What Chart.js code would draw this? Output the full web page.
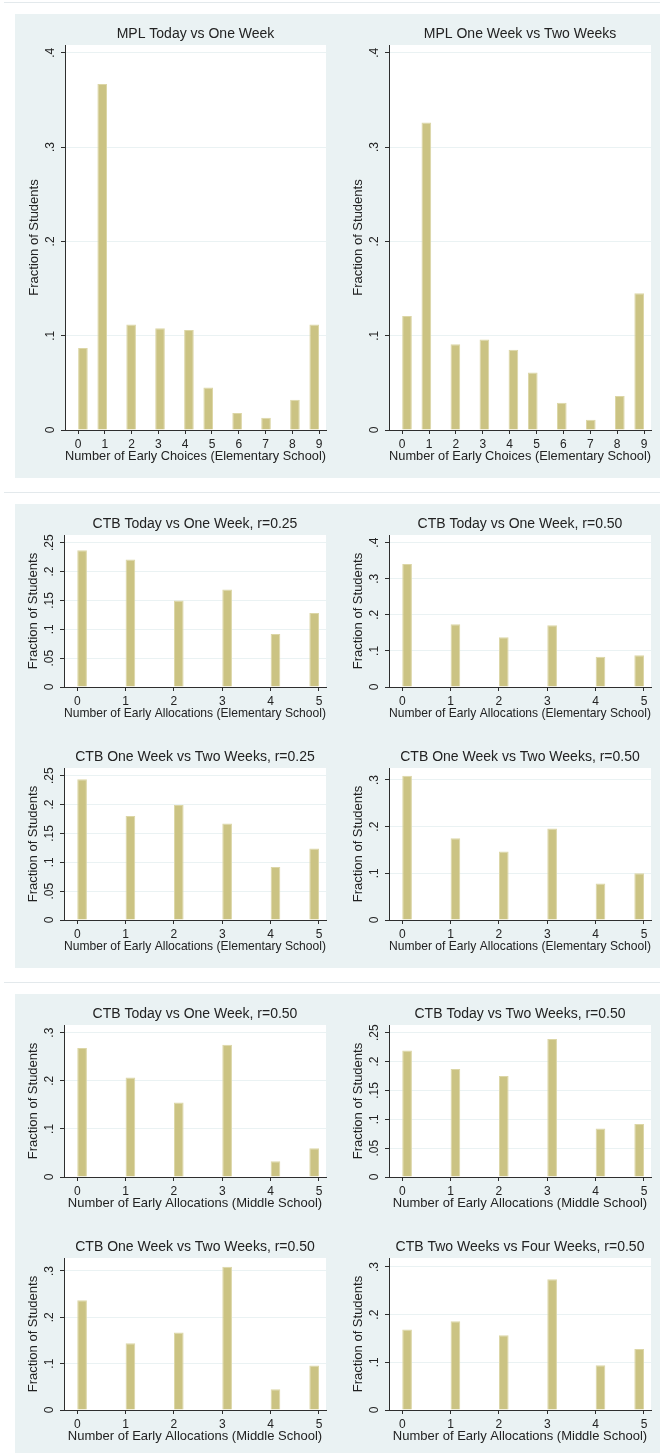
<!DOCTYPE html>
<html>
<head>
<meta charset="utf-8">
<script src="https://cdn.jsdelivr.net/npm/chart.js@4.4.1/dist/chart.umd.min.js"></script>
<style>
  html, body { margin: 0; padding: 0; background: #ffffff; }
  #page { position: relative; width: 660px; height: 1453px; overflow: hidden; background: #ffffff; }
  .sep { position: absolute; left: 4px; width: 656px; height: 1px; background: #e3e9ec; }
  .panel { position: absolute; left: 15px; width: 645px; background: #eaf2f3; }
  canvas { position: absolute; }
</style>
</head>
<body>
<div id="page">
  <div class="sep" style="top:2px"></div>
  <div class="panel" style="top:14px;height:464px"></div>
  <div class="sep" style="top:492px"></div>
  <div class="panel" style="top:504px;height:464px"></div>
  <div class="sep" style="top:982px"></div>
  <div class="panel" style="top:994px;height:459px"></div>
</div>
<script>
// ---------------- DATA ----------------
const mplCategories = [0, 1, 2, 3, 4, 5, 6, 7, 8, 9];
const ctbCategories = [0, 1, 2, 3, 4, 5];

const mplTodayVsOneWeek      = [0.087, 0.367, 0.112, 0.108, 0.106, 0.045, 0.018, 0.013, 0.032, 0.112];
const mplOneWeekVsTwoWeeks   = [0.121, 0.326, 0.091, 0.096, 0.085, 0.061, 0.029, 0.011, 0.036, 0.145];

const ctbElemTodayOneWeekR25 = [0.237, 0.221, 0.150, 0.169, 0.092, 0.128];
const ctbElemTodayOneWeekR50 = [0.341, 0.174, 0.138, 0.171, 0.084, 0.088];
const ctbElemOneTwoWeeksR25  = [0.244, 0.180, 0.199, 0.167, 0.092, 0.124];
const ctbElemOneTwoWeeksR50  = [0.309, 0.175, 0.147, 0.196, 0.078, 0.100];

const ctbMidTodayOneWeekR50  = [0.268, 0.207, 0.155, 0.275, 0.033, 0.060];
const ctbMidTodayTwoWeeksR50 = [0.219, 0.187, 0.175, 0.239, 0.084, 0.092];
const ctbMidOneTwoWeeksR50   = [0.237, 0.144, 0.167, 0.309, 0.045, 0.096];
const ctbMidTwoFourWeeksR50  = [0.169, 0.186, 0.157, 0.274, 0.094, 0.128];

const yTicksTenths4   = [0, 0.1, 0.2, 0.3, 0.4];
const yTicksTenths3   = [0, 0.1, 0.2, 0.3];
const yTicksTwentieth = [0, 0.05, 0.1, 0.15, 0.2, 0.25];

const yAxisTitle = 'Fraction of Students';
const xTitleMPL  = 'Number of Early Choices (Elementary School)';
const xTitleElem = 'Number of Early Allocations (Elementary School)';
const xTitleMid  = 'Number of Early Allocations (Middle School)';

// ---------------- STYLE ----------------
const FONT = '"Liberation Sans", Arial, Helvetica, sans-serif';
const TEXT = '#222222';
const AXIS = '#2e2e2e';
const GRID = '#eaf2f3';
const BAR_FILL = '#cbc383';
const BAR_EDGE = '#dcd6a6';
const TITLE_SIZE = 14, AXIS_TITLE_SIZE = 13, TICK_SIZE = 12;
const N_BINS = 25;

Chart.defaults.font.family = FONT;

// ---------------- CHART SPECS ----------------
const specs = [
  { title: 'MPL Today vs One Week', xTitle: xTitleMPL, cats: mplCategories, vals: mplTodayVsOneWeek, yTicks: yTicksTenths4,
    yMax: 0.4083, xMin: -0.49, xMax: 9.26, box: { x: 15, y: 14, w: 330, h: 464 }, area: { l: 65, t: 45, r: 326, b: 430 }, titleY: 34 },
  { title: 'MPL One Week vs Two Weeks', xTitle: xTitleMPL, cats: mplCategories, vals: mplOneWeekVsTwoWeeks, yTicks: yTicksTenths4,
    yMax: 0.4083, xMin: -0.49, xMax: 9.26, box: { x: 330, y: 14, w: 330, h: 464 }, area: { l: 389, t: 45, r: 651, b: 430 }, titleY: 34 },

  { title: 'CTB Today vs One Week, r=0.25', xTitle: xTitleElem, cats: ctbCategories, vals: ctbElemTodayOneWeekR25, yTicks: yTicksTwentieth,
    yMax: 0.2633, xMin: -0.274, xMax: 5.145, box: { x: 15, y: 504, w: 330, h: 230 }, area: { l: 64, t: 535, r: 326, b: 687 }, titleY: 524 },
  { title: 'CTB Today vs One Week, r=0.50', xTitle: xTitleElem, cats: ctbCategories, vals: ctbElemTodayOneWeekR50, yTicks: yTicksTenths4,
    yMax: 0.4213, xMin: -0.274, xMax: 5.145, box: { x: 330, y: 504, w: 330, h: 230 }, area: { l: 389, t: 535, r: 651, b: 687 }, titleY: 524 },
  { title: 'CTB One Week vs Two Weeks, r=0.25', xTitle: xTitleElem, cats: ctbCategories, vals: ctbElemOneTwoWeeksR25, yTicks: yTicksTwentieth,
    yMax: 0.2633, xMin: -0.274, xMax: 5.145, box: { x: 15, y: 736, w: 330, h: 232 }, area: { l: 64, t: 768, r: 326, b: 920 }, titleY: 757 },
  { title: 'CTB One Week vs Two Weeks, r=0.50', xTitle: xTitleElem, cats: ctbCategories, vals: ctbElemOneTwoWeeksR50, yTicks: yTicksTenths3,
    yMax: 0.3257, xMin: -0.274, xMax: 5.145, box: { x: 330, y: 736, w: 330, h: 232 }, area: { l: 389, t: 768, r: 651, b: 920 }, titleY: 757 },

  { title: 'CTB Today vs One Week, r=0.50', xTitle: xTitleMid, cats: ctbCategories, vals: ctbMidTodayOneWeekR50, yTicks: yTicksTenths3,
    yMax: 0.316, xMin: -0.274, xMax: 5.145, box: { x: 15, y: 994, w: 330, h: 230 }, area: { l: 64, t: 1025, r: 326, b: 1177 }, titleY: 1014 },
  { title: 'CTB Today vs Two Weeks, r=0.50', xTitle: xTitleMid, cats: ctbCategories, vals: ctbMidTodayTwoWeeksR50, yTicks: yTicksTwentieth,
    yMax: 0.2633, xMin: -0.274, xMax: 5.145, box: { x: 330, y: 994, w: 330, h: 230 }, area: { l: 389, t: 1025, r: 651, b: 1177 }, titleY: 1014 },
  { title: 'CTB One Week vs Two Weeks, r=0.50', xTitle: xTitleMid, cats: ctbCategories, vals: ctbMidOneTwoWeeksR50, yTicks: yTicksTenths3,
    yMax: 0.328, xMin: -0.274, xMax: 5.145, box: { x: 15, y: 1226, w: 330, h: 227 }, area: { l: 64, t: 1258, r: 326, b: 1410 }, titleY: 1247 },
  { title: 'CTB Two Weeks vs Four Weeks, r=0.50', xTitle: xTitleMid, cats: ctbCategories, vals: ctbMidTwoFourWeeksR50, yTicks: yTicksTenths3,
    yMax: 0.3188, xMin: -0.274, xMax: 5.145, box: { x: 330, y: 1226, w: 330, h: 227 }, area: { l: 389, t: 1258, r: 651, b: 1410 }, titleY: 1247 }
];

// ---------------- HELPERS ----------------
const fmtY = v => {
  const s = String(Number(Number(v).toFixed(3)));
  return s.replace(/^0\./, '.');
};

// Stata-style histogram binning of discrete values over [lo, hi] in N_BINS bins
function binLayout(cats) {
  const lo = Math.min(...cats), hi = Math.max(...cats);
  const w = (hi - lo) / N_BINS;
  const idx = cats.map(c => Math.min(N_BINS - 1, Math.floor((c - lo) / w + 1e-9)));
  const centers = idx.map(i => lo + (i + 0.5) * w);
  let minGap = 1 / w; // tick spacing in bins
  for (let i = 1; i < idx.length; i++) minGap = Math.min(minGap, idx[i] - idx[i - 1]);
  return { centers, catPct: 1 / minGap };
}

const measureCtx = document.createElement('canvas').getContext('2d');
function widestLabel(labels, size) {
  measureCtx.font = size + 'px ' + FONT;
  return Math.max(...labels.map(l => measureCtx.measureText(l).width));
}

const plotBackground = {
  id: 'plotBackground',
  beforeDraw(chart) {
    const { ctx, chartArea: a } = chart;
    ctx.save();
    ctx.fillStyle = '#ffffff';
    ctx.fillRect(a.left, a.top, a.right - a.left, a.bottom - a.top);
    ctx.restore();
  }
};

const page = document.getElementById('page');

specs.forEach(spec => {
  const B = spec.box, A = spec.area;
  const canvas = document.createElement('canvas');
  canvas.width = B.w; canvas.height = B.h;
  canvas.style.left = B.x + 'px'; canvas.style.top = B.y + 'px';
  canvas.style.width = B.w + 'px'; canvas.style.height = B.h + 'px';
  page.appendChild(canvas);

  const titleLH = TITLE_SIZE * 1.2, axisLH = AXIS_TITLE_SIZE * 1.2, tickLH = TICK_SIZE * 1.2;
  const tickLen = 4;
  const yW = A.l - B.x;
  const titlePadTop = spec.titleY - B.y - titleLH / 2;
  const titlePadBottom = (A.t - B.y) - titlePadTop - titleLH;
  const xH = 26 + axisLH / 2;
  const padBottom = B.h - (A.b - B.y) - xH;
  const padRight = B.x + B.w - A.r;
  const xTickPad = 14.5 - tickLen - tickLH / 2;
  const yLabels = spec.yTicks.map(fmtY);
  const yTickPad = 14 - tickLen - widestLabel(yLabels, TICK_SIZE) / 2;
  const yTitlePad = yW - 31 - axisLH / 2;

  const bins = binLayout(spec.cats);

  new Chart(canvas, {
    type: 'bar',
    data: {
      datasets: [{
        data: spec.cats.map((c, i) => ({ x: bins.centers[i], y: spec.vals[i] })),
        backgroundColor: BAR_FILL,
        borderColor: BAR_EDGE,
        borderWidth: 1,
        barPercentage: 1,
        categoryPercentage: bins.catPct
      }]
    },
    options: {
      responsive: false,
      animation: false,
      devicePixelRatio: 1,
      layout: { padding: { left: 0, top: 0, right: padRight, bottom: padBottom } },
      plugins: {
        legend: { display: false },
        tooltip: { enabled: false },
        title: {
          display: true, text: spec.title, fullSize: false, color: TEXT,
          font: { size: TITLE_SIZE, weight: 'normal', family: FONT },
          padding: { top: titlePadTop, bottom: titlePadBottom }
        }
      },
      scales: {
        x: {
          type: 'linear', min: spec.xMin, max: spec.xMax, offset: false,
          afterBuildTicks: s => { s.ticks = spec.cats.map(v => ({ value: v })); },
          afterFit: s => { s.height = xH; },
          ticks: { autoSkip: false, minRotation: 0, maxRotation: 0, padding: xTickPad, color: TEXT,
                   font: { size: TICK_SIZE, family: FONT }, callback: v => String(v) },
          grid: { offset: false, drawOnChartArea: false, drawTicks: true, tickLength: tickLen, tickColor: AXIS, tickWidth: 1 },
          border: { display: true, color: AXIS, width: 1 },
          title: { display: true, text: spec.xTitle, color: TEXT, font: { size: AXIS_TITLE_SIZE, family: FONT }, padding: { top: 0, bottom: 0 } }
        },
        y: {
          type: 'linear', min: 0, max: spec.yMax,
          afterBuildTicks: s => { s.ticks = spec.yTicks.map(v => ({ value: v })); },
          afterFit: s => { s.width = yW; },
          ticks: { minRotation: 90, maxRotation: 90, crossAlign: 'center', padding: yTickPad, color: TEXT,
                   font: { size: TICK_SIZE, family: FONT }, callback: v => fmtY(v) },
          grid: { color: GRID, lineWidth: 1, drawTicks: true, tickLength: tickLen, tickColor: AXIS, tickWidth: 1 },
          border: { display: true, color: AXIS, width: 1 },
          title: { display: true, text: yAxisTitle, color: TEXT, font: { size: AXIS_TITLE_SIZE, family: FONT }, padding: { top: yTitlePad, bottom: 0 } }
        }
      }
    },
    plugins: [plotBackground]
  });
});
</script>
</body>
</html>
